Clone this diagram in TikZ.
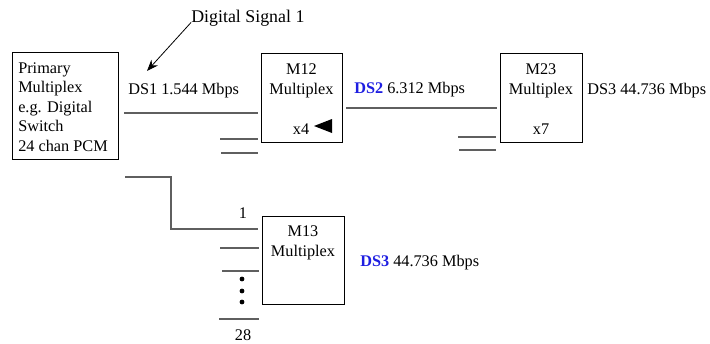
\documentclass[tikz,border=0pt]{standalone}
\usepackage{fontspec}
\setmainfont{Liberation Serif}
\usetikzlibrary{arrows.meta}
\definecolor{dsblue}{RGB}{30,30,225}
\definecolor{linegray}{RGB}{95,95,95}
\begin{document}
\begin{tikzpicture}[x=0.75pt,y=-0.75pt,
  font=\fontsize{12.2}{14.6}\selectfont,
  mbox/.style={draw=black, line width=0.75pt, inner sep=0pt},
  lbl/.style={inner sep=0pt, anchor=base west},
  ctr/.style={inner sep=0pt, align=center, font=\fontsize{12.2}{15}\selectfont},
  wire/.style={draw=linegray, line width=0.9pt},
  dot/.style={fill=black}]
\useasboundingbox (0,0) rectangle (710,343);

% boxes
\node[mbox, minimum width=79.5pt, minimum height=80.25pt] (prim) at (65,105.5) {};
\node[inner sep=0pt, align=left, anchor=west] (primtxt) at (18,107)
  {Primary\\Multiplex\\e.g. Digital\\Switch\\24 chan PCM};

\node[mbox, minimum width=60.75pt, minimum height=66.75pt] (m12) at (301.5,97.5) {};
\node[ctr] (m12t) at (301.5,81) {M12\\Multiplex};
\node[inner sep=0pt, anchor=base] (x4) at (301,134.5) {x4};
\fill (314,126) -- (332,119) -- (332,133) -- cycle;

\node[mbox, minimum width=61.5pt, minimum height=66.75pt] (m23) at (541,97.5) {};
\node[ctr] (m23t) at (541,81) {M23\\Multiplex};
\node[inner sep=0pt, anchor=base] (x7) at (541,134.5) {x7};

\node[mbox, minimum width=61.5pt, minimum height=66pt] (m13) at (303,260) {};
\node[ctr] (m13t) at (303,242.5) {M13\\Multiplex};

% labels
\node[lbl, font=\fontsize{13.4}{16}\selectfont] (dsig) at (191,22.5) {Digital Signal 1};
\node[lbl] (ds1) at (128,94.5) {DS1 1.544 Mbps};
\node[lbl] (ds2) at (354,93) {\textcolor{dsblue}{\bfseries DS2} 6.312 Mbps};
\node[lbl] (ds3a) at (587,94.5) {DS3 44.736 Mbps};
\node[lbl] (ds3b) at (360,266.5) {\textcolor{dsblue}{\bfseries DS3} 44.736 Mbps};
\node[inner sep=0pt, anchor=base] (n1) at (243,218.5) {1};
\node[inner sep=0pt, anchor=base] (n28) at (243,340.5) {28};

% arrow
\coordinate (arrtip) at (147,71);
\draw[line width=0.6pt, -{Stealth[length=8.5pt,width=6.5pt]}] (dsig.base west) -- (arrtip);

% wires to M12
\coordinate (a1) at (124,113);   \coordinate (a2) at (258,113);
\coordinate (b1) at (220,139);   \coordinate (b2) at (258,139);
\coordinate (c1) at (221,153);   \coordinate (c2) at (258,153);
\draw[wire] (a1) -- (a2);
\draw[wire] (b1) -- (b2);
\draw[wire] (c1) -- (c2);

% wires to M23
\coordinate (d1) at (346,108);   \coordinate (d2) at (497,108);
\coordinate (e1) at (458,137);   \coordinate (e2) at (496,137);
\coordinate (f1) at (459,150);   \coordinate (f2) at (496,150);
\draw[wire] (d1) -- (d2);
\draw[wire] (e1) -- (e2);
\draw[wire] (f1) -- (f2);

% wires to M13
\coordinate (g1) at (125,177);   \coordinate (g2) at (171,177);
\coordinate (g3) at (171,229);   \coordinate (g4) at (258,229);
\draw[wire] (g1) -- (g2) -- (g3) -- (g4);
\coordinate (h1) at (220,248);   \coordinate (h2) at (259,248);
\coordinate (i1) at (222,271);   \coordinate (i2) at (259,271);
\coordinate (j1) at (219,319);   \coordinate (j2) at (259,319);
\draw[wire] (h1) -- (h2);
\draw[wire] (i1) -- (i2);
\draw[wire] (j1) -- (j2);

% dots
\fill[dot] (242,279) circle (1.8pt);
\fill[dot] (242,291) circle (1.8pt);
\fill[dot] (242,302) circle (1.8pt);
\end{tikzpicture}
\end{document}
